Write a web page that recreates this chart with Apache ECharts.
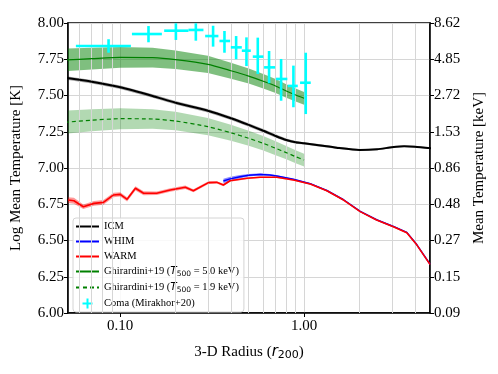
<!DOCTYPE html>
<html>
<head>
<meta charset="utf-8">
<script src="https://cdn.jsdelivr.net/npm/echarts@6/dist/echarts.min.js"></script>
<style>
  html, body { margin: 0; padding: 0; background: #fff; }
  #chart { width: 498px; height: 374px; }
</style>
</head>
<body>
<div id="chart"></div>
<script>
// radii in units of r200, temperatures as log10(T/K)

// Ghirardini+19 model curves
var ghiR = [0.05, 0.07, 0.1, 0.15, 0.2, 0.3, 0.4, 0.5, 0.6, 0.7, 0.8, 0.9, 1.0];
var ghiHot = [7.745, 7.754, 7.763, 7.761, 7.747, 7.715, 7.671, 7.634, 7.598, 7.566, 7.531, 7.503, 7.481];
var ghiHotLo = [7.667, 7.679, 7.691, 7.693, 7.683, 7.656, 7.616, 7.582, 7.548, 7.518, 7.485, 7.458, 7.437];
var ghiHotHi = [7.823, 7.829, 7.835, 7.829, 7.811, 7.774, 7.726, 7.686, 7.648, 7.614, 7.577, 7.548, 7.525];
var ghiCool = [7.315, 7.330, 7.340, 7.338, 7.324, 7.285, 7.243, 7.205, 7.170, 7.136, 7.106, 7.078, 7.055];
var ghiCoolLo = [7.235, 7.254, 7.268, 7.270, 7.260, 7.226, 7.188, 7.153, 7.120, 7.088, 7.060, 7.033, 7.011];
var ghiCoolHi = [7.395, 7.406, 7.412, 7.406, 7.388, 7.344, 7.298, 7.257, 7.220, 7.184, 7.152, 7.123, 7.099];

// ICM
var icmR = [0.05, 0.07, 0.1, 0.15, 0.2, 0.3, 0.4, 0.5, 0.6, 0.7, 0.8, 0.9, 1.0, 1.2, 1.5, 2.0, 2.5, 3.0, 3.5, 4.0, 5.0];
var icmT = [7.622, 7.595, 7.557, 7.497, 7.450, 7.395, 7.343, 7.297, 7.257, 7.221, 7.193, 7.177, 7.170, 7.157, 7.140, 7.124, 7.129, 7.143, 7.150, 7.147, 7.135];
var icmErr = [0.012, 0.012, 0.012, 0.012, 0.012, 0.012, 0.012, 0.012, 0.012, 0.012, 0.01, 0.01, 0.008, 0.008, 0.008, 0.006, 0.006, 0.006, 0.006, 0.006, 0.006];

// WARM
var warmR = [0.052, 0.056, 0.063, 0.072, 0.081, 0.092, 0.100, 0.109, 0.121, 0.134, 0.158, 0.187, 0.226, 0.250, 0.302, 0.335, 0.364, 0.396, 0.488, 0.577, 0.711, 0.875, 1.08, 1.33, 1.64, 2.02, 2.48, 3.06, 3.62, 4.10, 4.84];
var warmT = [6.779, 6.774, 6.733, 6.756, 6.763, 6.814, 6.818, 6.784, 6.860, 6.826, 6.826, 6.848, 6.867, 6.843, 6.899, 6.901, 6.883, 6.912, 6.929, 6.936, 6.936, 6.917, 6.890, 6.843, 6.779, 6.699, 6.641, 6.595, 6.554, 6.470, 6.335];
var warmErr = [0.02, 0.02, 0.016, 0.016, 0.016, 0.015, 0.015, 0.015, 0.015, 0.014, 0.012, 0.012, 0.012, 0.01, 0.01, 0.008, 0.008, 0.006, 0.006, 0.005, 0.005, 0.005, 0.005, 0.005, 0.005, 0.005, 0.005, 0.005, 0.005, 0.005, 0.005];

// WHIM
var whimR = [0.364, 0.396, 0.449, 0.50, 0.577, 0.65, 0.711, 0.875, 1.08, 1.33, 1.64, 2.02, 2.48, 3.06, 3.62, 4.10, 4.84];
var whimT = [6.910, 6.925, 6.940, 6.950, 6.956, 6.952, 6.945, 6.922, 6.892, 6.845, 6.781, 6.701, 6.643, 6.597, 6.556, 6.472, 6.337];
var whimErr = [0.016, 0.014, 0.011, 0.009, 0.007, 0.006, 0.005, 0.004, 0.004, 0.004, 0.004, 0.004, 0.004, 0.004, 0.004, 0.004, 0.004];

// Coma (Mirakhor+20)
var comaR = [0.0864, 0.1425, 0.2008, 0.2578, 0.320, 0.369, 0.427, 0.486, 0.560, 0.645, 0.750, 0.875, 1.021];
var comaRlo = [0.0574, 0.1158, 0.1734, 0.235, 0.2897, 0.3465, 0.3996, 0.4585, 0.526, 0.606, 0.702, 0.815, 0.951];
var comaRhi = [0.1143, 0.1685, 0.235, 0.2836, 0.342, 0.396, 0.4585, 0.513, 0.601, 0.696, 0.811, 0.924, 1.087];
var comaT = [7.841, 7.924, 7.947, 7.952, 7.910, 7.876, 7.832, 7.809, 7.768, 7.694, 7.614, 7.566, 7.588];
var comaTlo = [7.795, 7.867, 7.883, 7.878, 7.837, 7.795, 7.750, 7.703, 7.648, 7.584, 7.464, 7.419, 7.372];
var comaThi = [7.888, 7.979, 7.998, 7.998, 7.981, 7.945, 7.910, 7.901, 7.899, 7.807, 7.752, 7.706, 7.795];

// axes
var xMin = 0.052, xMax = 4.84;
var xMinorGrid = [0.06, 0.07, 0.08, 0.09, 0.2, 0.3, 0.4, 0.5, 0.6, 0.7, 0.8, 0.9, 2, 3, 4];
var kB = 8.617e-8; // keV per K

var SERIF = 'Liberation Serif';
var MATH = 'DejaVu Sans';

function pairs(xs, ys) {
    var out = [];
    for (var i = 0; i < xs.length; i++) out.push([xs[i], ys[i]]);
    return out;
}

// shaded band between lo and hi, drawn once as one polygon
function band(xs, lo, hi, color, z) {
    var data = [];
    for (var i = 0; i < xs.length; i++) data.push([xs[i], lo[i], hi[i]]);
    return {
        type: 'custom', data: data, silent: true, clip: true, z: z,
        encode: { x: 0, y: [1, 2] },
        renderItem: function (params, api) {
            if (params.dataIndex !== 0) return null;
            var pts = [];
            for (var j = 0; j < xs.length; j++) pts.push(api.coord([xs[j], hi[j]]));
            for (var k = xs.length - 1; k >= 0; k--) pts.push(api.coord([xs[k], lo[k]]));
            return { type: 'polygon', shape: { points: pts }, style: { fill: color } };
        }
    };
}

function errBand(xs, ys, err, color, z) {
    var lo = [], hi = [];
    for (var i = 0; i < xs.length; i++) { lo.push(ys[i] - err[i]); hi.push(ys[i] + err[i]); }
    return band(xs, lo, hi, color, z);
}

var NAME_HOT = 'Ghirardini+19 (T500 = 5.0 keV)';
var NAME_COOL = 'Ghirardini+19 (T500 = 1.9 keV)';
var NAME_COMA = 'Coma (Mirakhor+20)';

var comaData = [];
for (var i = 0; i < comaR.length; i++) {
    comaData.push([comaR[i], comaT[i], comaRlo[i], comaRhi[i], comaTlo[i], comaThi[i]]);
}

var series = [];
// minor vertical grid lines of the log axis
series.push({
    name: 'grid', type: 'line', data: [], silent: true, z: 0,
    markLine: {
        silent: true, symbol: ['none', 'none'], label: { show: false }, animation: false,
        lineStyle: { color: '#d6d6d6', type: 'solid', width: 1 },
        data: xMinorGrid.map(function (v) { return { xAxis: v }; })
    }
});
series.push(band(ghiR, ghiHotLo, ghiHotHi, 'rgba(0,128,0,0.5)', 2));
series.push(band(ghiR, ghiCoolLo, ghiCoolHi, 'rgba(0,128,0,0.3)', 2));
series.push(errBand(icmR, icmT, icmErr, 'rgba(0,0,0,0.35)', 3));
series.push(errBand(whimR, whimT, whimErr, 'rgba(0,0,255,0.45)', 3));
series.push(errBand(warmR, warmT, warmErr, 'rgba(255,0,0,0.4)', 4));

series.push({ name: 'ICM', type: 'line', data: pairs(icmR, icmT), symbol: 'none', smooth: 0.2,
    color: '#000', lineStyle: { color: '#000', width: 2 }, z: 5 });
series.push({ name: 'WHIM', type: 'line', data: pairs(whimR, whimT), symbol: 'none',
    color: '#0000ff', lineStyle: { color: '#0000ff', width: 1.5 }, z: 5 });
series.push({ name: 'WARM', type: 'line', data: pairs(warmR, warmT), symbol: 'none',
    color: '#ff0000', lineStyle: { color: '#ff0000', width: 1.6 }, z: 6 });
series.push({ name: NAME_HOT, type: 'line', data: pairs(ghiR, ghiHot), symbol: 'none', smooth: 0.2,
    color: '#008000', lineStyle: { color: '#008000', width: 1.2 }, z: 5 });
series.push({ name: NAME_COOL, type: 'line', data: pairs(ghiR, ghiCool), symbol: 'none', smooth: 0.2,
    color: '#008000', lineStyle: { color: '#008000', width: 1.2, type: [4, 3] }, z: 5 });
series.push({
    name: NAME_COMA, type: 'custom', data: comaData, color: '#00ffff', z: 7,
    encode: { x: 0, y: 1 },
    renderItem: function (params, api) {
        var x = api.value(0), y = api.value(1);
        var l = api.coord([api.value(2), y]);
        var r = api.coord([api.value(3), y]);
        var b = api.coord([x, api.value(4)]);
        var t = api.coord([x, api.value(5)]);
        var st = { stroke: '#00ffff', lineWidth: 2.6 };
        return {
            type: 'group',
            children: [
                { type: 'line', shape: { x1: l[0], y1: l[1], x2: r[0], y2: r[1] }, style: st },
                { type: 'line', shape: { x1: b[0], y1: b[1], x2: t[0], y2: t[1] }, style: st }
            ]
        };
    }
});

var subRich = {
    m: { fontFamily: MATH, fontStyle: 'italic', fontSize: 10.5, color: '#000' },
    s: { fontFamily: MATH, fontSize: 7.5, color: '#000', padding: [5, 0, 0, 0] }
};
var noDot = { opacity: 0 };

var chart = echarts.init(document.getElementById('chart'));
var option = {
    animation: false,
    backgroundColor: '#fff',
    grid: { left: 68, right: 68, top: 23, bottom: 61, show: true, borderColor: '#000', borderWidth: 1.5 },
    legend: {
        orient: 'vertical', left: 73, top: 218,
        itemWidth: 23, itemHeight: 10, itemGap: 4,
        padding: [3, 5, 3, 2],
        backgroundColor: 'rgba(255,255,255,0.85)',
        borderColor: '#d4d4d4', borderWidth: 1, borderRadius: 3,
        textStyle: { fontFamily: SERIF, fontSize: 10.5, color: '#000', rich: subRich },
        formatter: function (name) { return name.replace('T500', '{m|T}{s|500}'); },
        data: [
            { name: 'ICM', itemStyle: noDot },
            { name: 'WHIM', itemStyle: noDot },
            { name: 'WARM', itemStyle: noDot },
            { name: NAME_HOT, itemStyle: noDot },
            { name: NAME_COOL, itemStyle: noDot },
            { name: NAME_COMA, icon: 'path://M4,0 L6,0 L6,4 L10,4 L10,6 L6,6 L6,10 L4,10 L4,6 L0,6 L0,4 L4,4 Z',
              itemStyle: { color: '#00ffff' } }
        ]
    },
    xAxis: {
        type: 'log', logBase: 10, min: xMin, max: xMax,
        name: '3-D Radius ({r|r}{s|200})', nameLocation: 'middle', nameGap: 30,
        nameTextStyle: {
            fontFamily: SERIF, fontSize: 15, color: '#000',
            rich: {
                r: { fontFamily: MATH, fontStyle: 'italic', fontSize: 15, color: '#000' },
                s: { fontFamily: MATH, fontSize: 11, color: '#000', padding: [7, 0, 0, 0] }
            }
        },
        axisLine: { lineStyle: { color: '#000', width: 1.5 } },
        axisTick: { show: true, length: 4, lineStyle: { color: '#000' } },
        axisLabel: { fontFamily: SERIF, fontSize: 15, color: '#000', margin: 6,
            showMinLabel: false, showMaxLabel: false,
            formatter: function (v) { return v.toFixed(2); } },
        splitLine: { show: true, lineStyle: { color: '#d6d6d6', width: 1 } }
    },
    yAxis: [
        {
            type: 'value', min: 6, max: 8, interval: 0.25, position: 'left',
            name: 'Log Mean Temperature [K]', nameLocation: 'middle', nameGap: 44, nameRotate: 90,
            nameTextStyle: { fontFamily: SERIF, fontSize: 15, color: '#000' },
            axisLine: { show: true, lineStyle: { color: '#000', width: 1.5 } },
            axisTick: { show: true, length: 4, lineStyle: { color: '#000' } },
            axisLabel: { fontFamily: SERIF, fontSize: 15, color: '#000', margin: 4,
                formatter: function (v) { return v.toFixed(2); } },
            splitLine: { show: true, lineStyle: { color: '#d6d6d6', width: 1 } }
        },
        {
            type: 'value', min: 6, max: 8, interval: 0.25, position: 'right',
            name: 'Mean Temperature [keV]', nameLocation: 'middle', nameGap: 37, nameRotate: 90,
            nameTextStyle: { fontFamily: SERIF, fontSize: 15, color: '#000' },
            axisLine: { show: true, lineStyle: { color: '#000', width: 1.5 } },
            axisTick: { show: true, length: 4, lineStyle: { color: '#000' } },
            axisLabel: { fontFamily: SERIF, fontSize: 15, color: '#000', margin: 4,
                formatter: function (v) { return (Math.pow(10, v) * kB).toFixed(2); } },
            splitLine: { show: false }
        }
    ],
    series: series
};
chart.setOption(option);
</script>
</body>
</html>
